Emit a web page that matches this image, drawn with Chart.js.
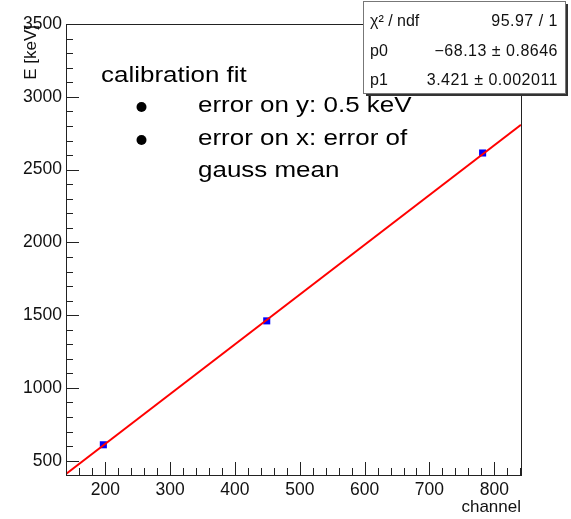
<!DOCTYPE html>
<html>
<head>
<meta charset="utf-8">
<script src="https://cdn.jsdelivr.net/npm/chart.js@4.4.0/dist/chart.umd.min.js"></script>
<style>
  body { margin: 0; background: #fff; }
  canvas { display: block; }
</style>
</head>
<body>
<canvas id="calibChart" width="571" height="519"></canvas>
<script>
// calibration fit: channel -> energy

const channels = [197, 449, 782]
const energies = [609.3, 1460.8, 2614.5]

// fit line end points (p0 + p1 * x at the axis edges)
const fitLineX = [139.4, 841.2]
const fitLineY = [409, 2808]

const xTickLabels = [200, 300, 400, 500, 600, 700, 800]
const yTickLabels = [500, 1000, 1500, 2000, 2500, 3000, 3500]

const statRows = [
    ['\u03c7\u00b2 / ndf', '95.97 / 1'],
    ['p0', '\u221268.13 \u00b1 0.8646'],
    ['p1', '3.421 \u00b1 0.002011']
]

const noteTitle = 'calibration fit'
const noteBullets = ['error on y: 0.5 keV', 'error on x: error of']
const noteWrap = 'gauss mean'

const FONT = '"Liberation Sans", Arial, Helvetica, sans-serif'

const rootFrame = {
    id: 'rootFrame',
    afterDatasetsDraw(chart) {
        const ctx = chart.ctx
        const area = chart.chartArea
        const xs = chart.scales.x
        const ys = chart.scales.y

        ctx.save()
        ctx.strokeStyle = '#222'
        ctx.lineWidth = 1
        ctx.strokeRect(area.left + 0.5, area.top + 0.5, area.right - area.left, area.bottom - area.top)

        // x ticks: major every 100, minor every 20, pointing up into the frame
        ctx.beginPath()
        for (let v = 140; v <= 840; v += 20) {
            const px = Math.round(xs.getPixelForValue(v)) + 0.5
            const len = v % 100 === 0 ? 13 : 7
            ctx.moveTo(px, area.bottom)
            ctx.lineTo(px, area.bottom - len)
        }
        // y ticks: major every 500, minor every 100
        for (let v = 500; v <= 3500; v += 100) {
            const py = Math.round(ys.getPixelForValue(v)) + 0.5
            const len = v % 500 === 0 ? 13 : 7
            ctx.moveTo(area.left, py)
            ctx.lineTo(area.left + len, py)
        }
        ctx.stroke()

        ctx.fillStyle = '#111'
        ctx.font = '17.5px ' + FONT
        ctx.textAlign = 'center'
        ctx.textBaseline = 'alphabetic'
        xTickLabels.forEach(v => {
            ctx.fillText(String(v), xs.getPixelForValue(v), 495)
        })
        ctx.textAlign = 'right'
        ctx.textBaseline = 'middle'
        yTickLabels.forEach(v => {
            ctx.fillText(String(v), 62, ys.getPixelForValue(v))
        })

        // axis titles
        ctx.font = '17px ' + FONT
        ctx.textAlign = 'right'
        ctx.textBaseline = 'alphabetic'
        ctx.fillText('channel', area.right, 512)

        ctx.save()
        ctx.translate(31, 25)
        ctx.rotate(-Math.PI / 2)
        ctx.textBaseline = 'middle'
        ctx.textAlign = 'right'
        ctx.fillText('E [keV]', 0, 0)
        ctx.restore()

        ctx.restore()
    },
    afterDraw(chart) {
        const ctx = chart.ctx
        ctx.save()

        // note text (pasted in, slightly wide)
        ctx.fillStyle = '#000'
        ctx.font = '22px ' + FONT
        ctx.textBaseline = 'alphabetic'
        ctx.textAlign = 'left'
        const stretch = 1.18
        const drawWide = (txt, x, y) => {
            ctx.save()
            ctx.translate(x, y)
            ctx.scale(stretch, 1)
            ctx.fillText(txt, 0, 0)
            ctx.restore()
        }
        drawWide(noteTitle, 101, 82)
        const baselines = [112, 145]
        noteBullets.forEach((txt, i) => {
            ctx.beginPath()
            ctx.arc(141.5, baselines[i] - 5, 5, 0, Math.PI * 2)
            ctx.fill()
            drawWide(txt, 198, baselines[i])
        })
        drawWide(noteWrap, 198, 177)

        // stat box
        const bx = 363, by = 1, bw = 202, bh = 92
        ctx.fillStyle = '#fff'
        ctx.fillRect(bx, by, bw, bh)
        ctx.strokeStyle = '#777'
        ctx.lineWidth = 1
        ctx.strokeRect(bx + 0.5, by + 0.5, bw, bh)
        ctx.strokeStyle = '#333'
        ctx.lineWidth = 2
        ctx.beginPath()
        ctx.moveTo(bx + bw + 2, by + 3)
        ctx.lineTo(bx + bw + 2, by + bh + 2)
        ctx.lineTo(bx + 3, by + bh + 2)
        ctx.stroke()

        ctx.fillStyle = '#111'
        ctx.font = '16px ' + FONT
        const rowY = [26, 56, 85]
        statRows.forEach((row, i) => {
            ctx.letterSpacing = '0px'
            ctx.textAlign = 'left'
            ctx.fillText(row[0], 370, rowY[i])
            ctx.letterSpacing = '0.5px'
            ctx.textAlign = 'right'
            ctx.fillText(row[1], 558, rowY[i])
        })

        ctx.restore()
    }
}

const ctx = document.getElementById('calibChart')

const myChart = new Chart(ctx, {
    type: 'scatter',
    data: {
        datasets: [{
            label: 'fit',
            data: fitLineX.map((x, i) => ({x: x, y: fitLineY[i]})),
            showLine: true,
            borderColor: '#ff0000',
            borderWidth: 2,
            pointRadius: 0,
            order: 0
        }, {
            label: 'calibration points',
            data: channels.map((c, i) => ({x: c, y: energies[i]})),
            pointStyle: 'rect',
            pointRadius: 5,
            backgroundColor: '#0000ff',
            borderColor: '#0000ff',
            borderWidth: 0,
            order: 1
        }]
    },
    options: {
        responsive: false,
        animation: false,
        devicePixelRatio: 1,
        layout: {
            padding: {left: 66, right: 50, top: 24, bottom: 44}
        },
        scales: {
            x: {type: 'linear', min: 139.4, max: 841.2, display: false},
            y: {type: 'linear', min: 401.6, max: 3501, display: false}
        },
        plugins: {
            legend: {display: false},
            tooltip: {enabled: false}
        }
    },
    plugins: [rootFrame]
})
</script>
</body>
</html>
